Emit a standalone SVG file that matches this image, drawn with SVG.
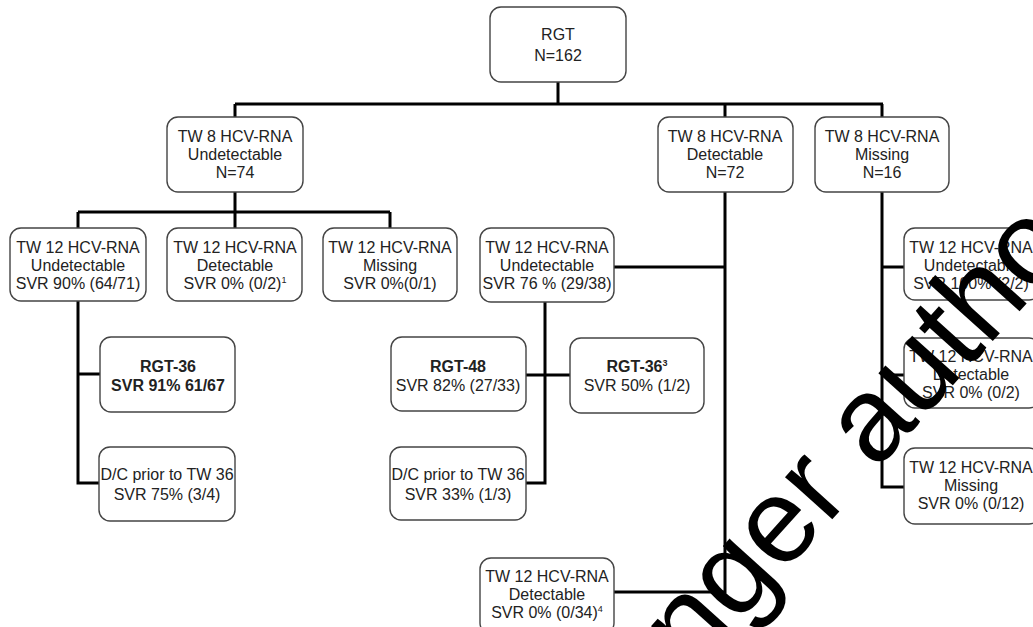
<svg xmlns="http://www.w3.org/2000/svg" width="1033" height="627" viewBox="0 0 1033 627">
<style>
.box{fill:#fff;stroke:#444;stroke-width:1.4}
.t{font-family:"Liberation Sans",Arial,sans-serif;font-size:16px;fill:#222;text-anchor:middle}
.b{font-weight:bold}
.sup{font-size:9px}
.conn{stroke:#000;stroke-width:3;fill:none}
.wm{font-family:"Liberation Sans",Arial,sans-serif;font-size:120px;fill:#000}
</style>
<rect width="1033" height="627" fill="#fff"/>
<g id="connectors" class="conn">
<path d="M558 82V104M235 104H883M235 104V117M725 104V117M882 104V117"/>
<path d="M235 192V212M78 212H390M78 212V228M235 212V228M390 212V228"/>
<path d="M78 301V483H99M78 374H100"/>
<path d="M725 192V592H614M614 267H725"/>
<path d="M545 302V483H526M526 375H570"/>
<path d="M882 192V487H904M882 267H904M882 375H904"/>
</g>
<g id="n_rgt"><rect class="box" x="490" y="7" width="136" height="75" rx="11"/><text class="t" x="558" y="40">RGT</text><text class="t" x="558" y="61">N=162</text></g>
<g id="n_tw8_und"><rect class="box" x="167" y="117" width="136" height="75" rx="11"/><text class="t" x="235" y="142">TW 8 HCV-RNA</text><text class="t" x="235" y="160">Undetectable</text><text class="t" x="235" y="178">N=74</text></g>
<g id="n_tw8_det"><rect class="box" x="658" y="117" width="135" height="75" rx="11"/><text class="t" x="725" y="142">TW 8 HCV-RNA</text><text class="t" x="725" y="160">Detectable</text><text class="t" x="725" y="178">N=72</text></g>
<g id="n_tw8_mis"><rect class="box" x="815" y="117" width="134" height="75" rx="11"/><text class="t" x="882" y="142">TW 8 HCV-RNA</text><text class="t" x="882" y="160">Missing</text><text class="t" x="882" y="178">N=16</text></g>
<g id="n_a_und"><rect class="box" x="10" y="228" width="136" height="73" rx="11"/><text class="t" x="78" y="253">TW 12 HCV-RNA</text><text class="t" x="78" y="271">Undetectable</text><text class="t" x="78" y="289">SVR 90% (64/71)</text></g>
<g id="n_a_det"><rect class="box" x="167" y="228" width="135" height="73" rx="11"/><text class="t" x="235" y="253">TW 12 HCV-RNA</text><text class="t" x="235" y="271">Detectable</text><text class="t" x="235" y="289">SVR 0% (0/2)<tspan class="sup" dy="-6">1</tspan></text></g>
<g id="n_a_mis"><rect class="box" x="323" y="228" width="134" height="73" rx="11"/><text class="t" x="390" y="253">TW 12 HCV-RNA</text><text class="t" x="390" y="271">Missing</text><text class="t" x="390" y="289">SVR 0%(0/1)</text></g>
<g id="n_b_und"><rect class="box" x="480" y="228" width="134" height="74" rx="11"/><text class="t" x="547" y="253">TW 12 HCV-RNA</text><text class="t" x="547" y="271">Undetectable</text><text class="t" x="547" y="289">SVR 76 % (29/38)</text></g>
<g id="n_c_und"><rect class="box" x="904" y="228" width="136" height="72" rx="11"/><text class="t" x="971" y="253">TW 12 HCV-RNA</text><text class="t" x="971" y="271">Undetectable</text><text class="t" x="971" y="289">SVR 100% (2/2)</text></g>
<g id="n_rgt36"><rect class="box" x="100" y="337" width="135" height="75" rx="11"/><text class="t b" x="168" y="372">RGT-36</text><text class="t b" x="168" y="391">SVR 91% 61/67</text></g>
<g id="n_rgt48"><rect class="box" x="391" y="337" width="135" height="74" rx="11"/><text class="t b" x="458" y="372">RGT-48</text><text class="t" x="458" y="391">SVR 82% (27/33)</text></g>
<g id="n_rgt36b"><rect class="box" x="570" y="338" width="134" height="75" rx="11"/><text class="t b" x="637" y="372">RGT-36<tspan class="sup" dy="-6">3</tspan></text><text class="t" x="637" y="391">SVR 50% (1/2)</text></g>
<g id="n_c_det"><rect class="box" x="904" y="338" width="136" height="70" rx="11"/><text class="t" x="971" y="362">TW 12 HCV-RNA</text><text class="t" x="971" y="380">Detectable</text><text class="t" x="971" y="398">SVR 0% (0/2)</text></g>
<g id="n_dc1"><rect class="box" x="99" y="447" width="136" height="74" rx="11"/><text class="t" x="167" y="480">D/C prior to TW 36</text><text class="t" x="167" y="500">SVR 75% (3/4)</text></g>
<g id="n_dc2"><rect class="box" x="390" y="447" width="136" height="73" rx="11"/><text class="t" x="458" y="480">D/C prior to TW 36</text><text class="t" x="458" y="500">SVR 33% (1/3)</text></g>
<g id="n_c_mis"><rect class="box" x="904" y="448" width="136" height="76" rx="11"/><text class="t" x="971" y="473">TW 12 HCV-RNA</text><text class="t" x="971" y="491">Missing</text><text class="t" x="971" y="509">SVR 0% (0/12)</text></g>
<g id="n_b_det"><rect class="box" x="480" y="558" width="134" height="76" rx="11"/><text class="t" x="547" y="582">TW 12 HCV-RNA</text><text class="t" x="547" y="600">Detectable</text><text class="t" x="547" y="618">SVR 0% (0/34)<tspan class="sup" dy="-6">4</tspan></text></g>
<text class="wm" transform="translate(648,724) rotate(-48)">onger author</text>
</svg>
